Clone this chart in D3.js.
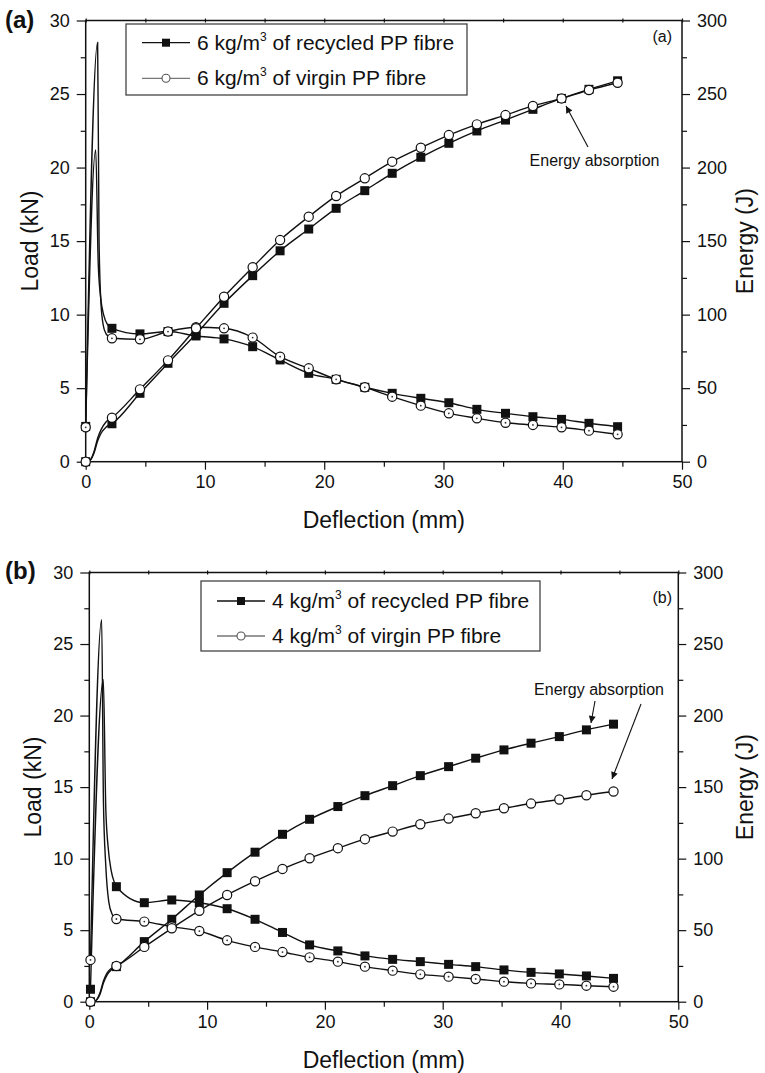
<!DOCTYPE html>
<html>
<head>
<meta charset="utf-8">
<script src="https://cdn.jsdelivr.net/npm/d3@7"></script>
<style>
  body { margin: 0; background: #fff; }
  text { font-family: "Liberation Sans", Arial, Helvetica, sans-serif; fill: #111; }
</style>
</head>
<body>
<svg id="chart" width="765" height="1073"></svg>
<script>
// ---- panel (a): 6 kg/m3 ----
const markXA = [0, 2.2, 4.55, 6.9, 9.25, 11.6, 14.0, 16.3, 18.7, 21.0, 23.4, 25.7, 28.1, 30.45, 32.8, 35.2, 37.5, 39.9, 42.2, 44.6];
const loadARec = [2.4, 9.07, 8.69, 8.85, 8.55, 8.35, 7.82, 6.92, 6.01, 5.6, 5.06, 4.65, 4.31, 4.01, 3.56, 3.29, 3.06, 2.88, 2.61, 2.38];
const loadAVir = [2.34, 8.39, 8.32, 8.85, 9.14, 9.07, 8.44, 7.14, 6.35, 5.6, 5.06, 4.42, 3.81, 3.29, 2.95, 2.65, 2.5, 2.34, 2.11, 1.86];
const energyARec = [0, 25.8, 46.5, 66.9, 86.8, 107.7, 126.5, 143.4, 158.2, 172.3, 184.3, 196.1, 207, 216.5, 224.9, 232.3, 239.6, 247, 253.2, 259];
const energyAVir = [0, 29.9, 49.2, 68.9, 90.7, 112.2, 132.2, 150.7, 166.6, 180.7, 192.7, 204, 213.5, 222.1, 229.4, 235.7, 241.9, 247, 252.7, 257.7];
// unmarked points of the raw curves near the peak
const peakARec = [[0.84, 21.2], [1.05, 13.5], [1.25, 11.2], [1.5, 10.0], [1.85, 9.3]];
const peakAVir = [[1.0, 28.5], [1.12, 15], [1.3, 10.5], [1.55, 9.0], [1.9, 8.5]];
const startEnergyARec = [[0.3, 0.5], [0.7, 6], [1.0, 14], [1.3, 19.5], [1.7, 23.5]];
const startEnergyAVir = [[0.3, 0.5], [0.7, 7], [1.0, 16], [1.3, 22], [1.7, 27]];

// ---- panel (b): 4 kg/m3 ----
const markXB = [0.1, 2.3, 4.67, 7.0, 9.34, 11.7, 14.07, 16.4, 18.7, 21.1, 23.4, 25.75, 28.1, 30.5, 32.8, 35.2, 37.5, 39.9, 42.2, 44.5];
const loadBRec = [0.87, 8.04, 6.92, 7.11, 6.92, 6.5, 5.76, 4.84, 3.97, 3.55, 3.2, 2.96, 2.8, 2.61, 2.45, 2.22, 2.05, 1.94, 1.8, 1.63];
const loadBVir = [2.92, 5.78, 5.6, 5.25, 4.94, 4.29, 3.83, 3.47, 3.1, 2.8, 2.45, 2.17, 1.91, 1.75, 1.59, 1.4, 1.28, 1.21, 1.12, 1.05];
const energyBRec = [0, 24.5, 42, 57.6, 74.6, 90.2, 104.5, 117, 127.5, 136.4, 144, 151, 158, 164.3, 170.2, 176, 180.7, 185.3, 190, 194];
const energyBVir = [0, 25, 38.3, 51.3, 63.6, 74.6, 84.2, 92.8, 100.3, 107.3, 113.6, 118.9, 124, 128, 131.7, 135.2, 138.5, 141.3, 144.3, 146.9];
const peakBRec = [[1.19, 22.5], [1.4, 13.5], [1.6, 10.8], [1.85, 9.2], [2.1, 8.4]];
const peakBVir = [[1.05, 26.7], [1.2, 14], [1.4, 9.5], [1.65, 7.0], [1.95, 6.1]];
const startEnergyBRec = [[0.5, 0.5], [0.9, 5], [1.2, 13], [1.5, 18.5], [1.9, 22.5]];
const startEnergyBVir = [[0.5, 0.5], [0.9, 6], [1.2, 14.5], [1.5, 20], [1.9, 23.5]];

// ticks
const xTicks = [0, 10, 20, 30, 40, 50];
const xMinor = [5, 15, 25, 35, 45];
const xTop = [0, 5, 10, 15, 20, 25, 30, 35, 40, 45, 50];
const loadTicks = [0, 5, 10, 15, 20, 25, 30];
const loadMinor = [2.5, 7.5, 12.5, 17.5, 22.5, 27.5];
const energyTicks = [0, 50, 100, 150, 200, 250, 300];
const energyMinor = [25, 75, 125, 175, 225, 275];

const svg = d3.select("#chart");

const defs = svg.append("defs");
defs.append("marker")
  .attr("id", "arrow")
  .attr("viewBox", "0 0 10 10")
  .attr("refX", 10).attr("refY", 5)
  .attr("markerWidth", 9).attr("markerHeight", 7)
  .attr("markerUnits", "userSpaceOnUse")
  .attr("orient", "auto")
  .append("path")
  .attr("d", "M0,0 L10,5 L0,10 Z")
  .attr("fill", "#111");

const zip = (xs, ys) => xs.map((x, i) => [x, ys[i]]);

const drawPanel = (p) => {
  const g = svg.append("g");
  const x = d3.scaleLinear().domain([0, 50]).range([p.left, p.right]);
  const yL = d3.scaleLinear().domain([0, 30]).range([p.bottom, p.top]);
  const yR = d3.scaleLinear().domain([0, 300]).range([p.bottom, p.top]);

  const fontTicks = sel => sel.selectAll("text").style("font-size", "18px").attr("fill", "#111");
  const thin = sel => { sel.select(".domain").remove(); sel.selectAll("line").attr("stroke", "#111").attr("stroke-width", 1.2); };

  // bottom
  g.append("g").attr("transform", `translate(0,${p.bottom})`)
    .call(d3.axisBottom(x).tickValues(xTicks).tickSize(8).tickPadding(6).tickFormat(d3.format("d")))
    .call(thin).call(fontTicks);
  g.append("g").attr("transform", `translate(0,${p.bottom})`)
    .call(d3.axisBottom(x).tickValues(xMinor).tickSize(5).tickFormat(""))
    .call(thin);
  // top (small ticks only)
  g.append("g").attr("transform", `translate(0,${p.top})`)
    .call(d3.axisTop(x).tickValues(xTop).tickSize(2).tickFormat(""))
    .call(thin);
  g.append("g").attr("transform", `translate(0,${p.top})`)
    .call(d3.axisBottom(x).tickValues(xTop).tickSize(2).tickFormat(""))
    .call(thin);
  // left
  g.append("g").attr("transform", `translate(${p.left},0)`)
    .call(d3.axisLeft(yL).tickValues(loadTicks).tickSize(9).tickPadding(7).tickFormat(d3.format("d")))
    .call(thin).call(fontTicks);
  g.append("g").attr("transform", `translate(${p.left},0)`)
    .call(d3.axisLeft(yL).tickValues(loadMinor).tickSize(5).tickFormat(""))
    .call(thin);
  // right
  g.append("g").attr("transform", `translate(${p.right},0)`)
    .call(d3.axisRight(yR).tickValues(energyTicks).tickSize(8).tickPadding(7).tickFormat(d3.format("d")))
    .call(thin).call(fontTicks);
  g.append("g").attr("transform", `translate(${p.right},0)`)
    .call(d3.axisRight(yR).tickValues(energyMinor).tickSize(5).tickFormat(""))
    .call(thin);

  // frame
  g.append("rect")
    .attr("x", p.left).attr("y", p.top)
    .attr("width", p.right - p.left).attr("height", p.bottom - p.top)
    .attr("fill", "none").attr("stroke", "#111").attr("stroke-width", 1.5);

  // axis titles
  g.append("text")
    .attr("x", (p.left + p.right) / 2).attr("y", p.bottom + 66)
    .attr("text-anchor", "middle").style("font-size", "23px")
    .text("Deflection (mm)");
  g.append("text")
    .attr("transform", `translate(${p.loadTitleX},${(p.top + p.bottom) / 2}) rotate(-90)`)
    .attr("text-anchor", "middle").style("font-size", "23px")
    .text("Load (kN)");
  g.append("text")
    .attr("transform", `translate(753,${(p.top + p.bottom) / 2}) rotate(-90)`)
    .attr("text-anchor", "middle").style("font-size", "23px")
    .text("Energy (J)");

  // panel label
  g.append("text")
    .attr("x", 5).attr("y", p.labelY)
    .style("font-size", "24px").style("font-weight", "bold")
    .text(p.label);
  g.append("text")
    .attr("x", 672).attr("y", p.tagY)
    .attr("text-anchor", "end").style("font-size", "16px")
    .text(p.label.replace(/[()]/g, "") ? p.label : p.label);

  const lineL = d3.line().x(d => x(d[0])).y(d => yL(d[1])).curve(d3.curveMonotoneX);
  const lineR = d3.line().x(d => x(d[0])).y(d => yR(d[1])).curve(d3.curveMonotoneX);

  const sortX = arr => arr.slice().sort((a, b) => a[0] - b[0]);

  const series = [
    { pts: zip(p.markX, p.loadVir), extra: p.peakVir, line: lineL, sc: yL, shape: "circle", dot: true },
    { pts: zip(p.markX, p.loadRec), extra: p.peakRec, line: lineL, sc: yL, shape: "square" },
    { pts: zip(p.markX, p.energyVir), extra: p.startVir, line: lineR, sc: yR, shape: "circle" },
    { pts: zip(p.markX, p.energyRec), extra: p.startRec, line: lineR, sc: yR, shape: "square" }
  ];

  series.forEach(s => {
    g.append("path")
      .datum(sortX(s.pts.concat(s.extra)))
      .attr("d", s.line)
      .attr("fill", "none")
      .attr("stroke", "#111")
      .attr("stroke-width", 1.4);
  });

  // markers on top of all lines (squares first so circles overlay them)
  const order = [series[1], series[3], series[0], series[2]];
  order.forEach(s => {
    s.pts.forEach(d => {
      const cx = x(d[0]), cy = s.sc(d[1]);
      if (s.shape === "square") {
        g.append("rect")
          .attr("x", cx - 4.5).attr("y", cy - 4.5)
          .attr("width", 9).attr("height", 9)
          .attr("fill", "#111");
      } else {
        g.append("circle")
          .attr("cx", cx).attr("cy", cy).attr("r", 4.6)
          .attr("fill", "#fff").attr("stroke", "#111").attr("stroke-width", 1.2);
        if (s.dot) {
          g.append("circle").attr("cx", cx).attr("cy", cy).attr("r", 0.9).attr("fill", "#333");
        }
      }
    });
  });

  // legend
  const lg = g.append("g");
  lg.append("rect")
    .attr("x", p.legend.x).attr("y", p.legend.y)
    .attr("width", p.legend.w).attr("height", p.legend.h)
    .attr("fill", "#fff").attr("stroke", "#444").attr("stroke-width", 1.3);
  p.legendItems.forEach((item, i) => {
    const ly = p.legend.rows[i];
    const lx = p.legend.x + 16;
    lg.append("line")
      .attr("x1", lx).attr("x2", lx + 48).attr("y1", ly).attr("y2", ly)
      .attr("stroke", i === 0 ? "#111" : "#777").attr("stroke-width", 1.3);
    if (i === 0) {
      lg.append("rect").attr("x", lx + 24 - 4).attr("y", ly - 4).attr("width", 8).attr("height", 8).attr("fill", "#111");
    } else {
      lg.append("circle").attr("cx", lx + 24).attr("cy", ly).attr("r", 4)
        .attr("fill", "#fff").attr("stroke", "#555").attr("stroke-width", 1.1);
    }
    const t = lg.append("text")
      .attr("x", lx + 55).attr("y", ly + 7)
      .style("font-size", "21px");
    t.append("tspan").text(item[0]);
    t.append("tspan").attr("dy", -9).style("font-size", "12px").text("3");
    t.append("tspan").attr("dy", 9).text(item[1]);
  });

  // annotation
  g.append("text")
    .attr("x", p.note.x).attr("y", p.note.y)
    .attr("text-anchor", "middle").style("font-size", "16px")
    .text("Energy absorption");
  p.note.arrows.forEach(a => {
    g.append("line")
      .attr("x1", a[0]).attr("y1", a[1]).attr("x2", a[2]).attr("y2", a[3])
      .attr("stroke", "#111").attr("stroke-width", 1.1)
      .attr("marker-end", "url(#arrow)");
  });
};

drawPanel({
  left: 85.7, right: 682, top: 20.5, bottom: 461.7,
  label: "(a)", labelY: 28, tagY: 42, loadTitleX: 38,
  markX: markXA, loadRec: loadARec, loadVir: loadAVir, energyRec: energyARec, energyVir: energyAVir,
  peakRec: peakARec, peakVir: peakAVir, startRec: startEnergyARec, startVir: startEnergyAVir,
  legend: { x: 126, y: 24, w: 341, h: 71, rows: [42.7, 78.3] },
  legendItems: [["6 kg/m", " of recycled PP fibre"], ["6 kg/m", " of virgin PP fibre"]],
  note: { x: 594.5, y: 166, arrows: [[588, 147, 566, 106]] }
});

drawPanel({
  left: 89.3, right: 678.3, top: 572.5, bottom: 1001.7,
  label: "(b)", labelY: 579, tagY: 603, loadTitleX: 41,
  markX: markXB, loadRec: loadBRec, loadVir: loadBVir, energyRec: energyBRec, energyVir: energyBVir,
  peakRec: peakBRec, peakVir: peakBVir, startRec: startEnergyBRec, startVir: startEnergyBVir,
  legend: { x: 201, y: 581, w: 339, h: 70, rows: [601, 636] },
  legendItems: [["4 kg/m", " of recycled PP fibre"], ["4 kg/m", " of virgin PP fibre"]],
  note: { x: 599, y: 695, arrows: [[595, 701, 591, 723], [641, 704, 612, 779]] }
});
</script>
</body>
</html>
